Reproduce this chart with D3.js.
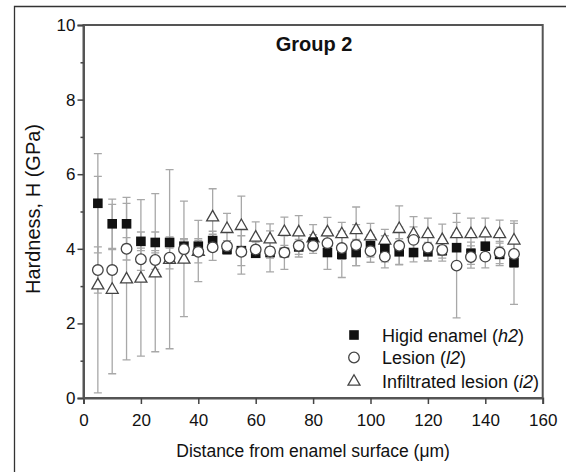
<!DOCTYPE html>
<html><head><meta charset="utf-8">
<script src="https://cdn.jsdelivr.net/npm/d3@7"></script>
<style>body{margin:0;background:#fff}svg{display:block;font-family:"Liberation Sans",Arial,sans-serif}</style>
</head><body><svg id="c" width="566" height="472"></svg>
<script>
const distance = [5,10,15,20,25,30,35,40,45,50,55,60,65,70,75,80,85,90,95,100,105,110,115,120,125,130,135,140,145,150];
const h2 = [5.22,4.67,4.67,4.20,4.17,4.17,4.07,4.07,4.22,3.98,3.95,3.88,3.90,3.90,4.05,4.18,3.90,3.85,3.90,4.08,4.00,3.92,3.90,3.92,3.95,4.03,3.88,4.07,3.85,3.63];
const h2Err = [1.33,0.66,0.55,0.25,0.28,0.15,0.20,0.20,0.25,0.12,0.40,0.10,0.15,0.12,0.20,0.20,0.45,0.62,0.35,0.30,0.35,0.35,0.25,0.25,0.20,0.40,0.30,0.25,0.30,1.12];
const l2 = [3.43,3.43,4.00,3.72,3.70,3.76,3.99,3.92,4.04,4.07,3.92,3.98,3.93,3.90,4.08,4.08,4.15,4.02,4.10,3.94,3.79,4.08,4.24,4.03,3.97,3.55,3.78,3.79,3.90,3.86];
const l2Err = [0.62,0.55,0.30,0.30,0.25,0.30,0.25,0.30,0.35,0.15,0.60,0.20,0.55,0.45,0.30,0.20,0.35,0.30,0.55,0.30,0.30,0.50,0.35,0.35,0.30,1.40,0.30,0.30,0.30,0.35];
const i2 = [3.04,2.92,3.20,3.22,3.36,3.72,3.73,3.94,4.86,4.55,4.63,4.32,4.27,4.47,4.46,4.30,4.46,4.41,4.52,4.35,4.24,4.55,4.41,4.41,4.25,4.41,4.41,4.43,4.41,4.24];
const i2Err = [2.90,2.27,2.18,2.10,2.12,2.40,1.55,0.82,0.75,0.40,0.78,0.40,0.40,0.38,0.43,0.35,0.38,0.30,0.60,0.33,0.28,0.60,0.45,0.41,0.41,0.30,0.41,0.39,0.36,0.44];
const xTicks = [0,20,40,60,80,100,120,140,160];
const yTicks = [0,2,4,6,8,10];
const yMinor = [1,3,5,7,9];
const legendLabels = [["Higid enamel (","h2",")"],["Lesion (","l2",")"],["Infiltrated lesion (","i2",")"]];

const svg = d3.select("#c");
const m = {l:83.5, t:25, r:23.3, b:74};
const W = 566, H = 472;
const x = d3.scaleLinear().domain([0,160]).range([m.l, W-m.r]);
const y = d3.scaleLinear().domain([0,10]).range([H-m.b, m.t]);

// outer figure frame
svg.append("path").attr("d",`M566,6.5H14.5V472`).attr("fill","none").attr("stroke","#333").attr("stroke-width",1.3);

// plot box
svg.append("rect").attr("x",x(0)).attr("y",y(10)).attr("width",x(160)-x(0)).attr("height",y(0)-y(10))
  .attr("fill","none").attr("stroke","#555").attr("stroke-width",2);

const fs = 17;
const gx = svg.append("g").attr("transform",`translate(0,${y(0)})`)
  .call(d3.axisBottom(x).tickValues(xTicks).tickSize(6).tickPadding(10).tickFormat(d3.format("d")));
const gy = svg.append("g").attr("transform",`translate(${x(0)},0)`)
  .call(d3.axisLeft(y).tickValues(yTicks).tickSize(6).tickPadding(2).tickFormat(d3.format("d")));
svg.append("g").attr("transform",`translate(${x(0)},0)`)
  .call(d3.axisLeft(y).tickValues(yMinor).tickSize(3).tickFormat(""))
  .call(g=>g.select(".domain").remove());
svg.selectAll(".tick line").attr("stroke","#444").attr("stroke-width",1.5);
[gx,gy].forEach(g=>{g.select(".domain").attr("stroke","#555").attr("stroke-width",2);
  g.selectAll("text").attr("font-size",fs).attr("fill","#111").attr("font-family","Liberation Sans, Arial, sans-serif");});

// axis labels
svg.append("text").attr("x",(x(0)+x(160))/2).attr("y",457).attr("text-anchor","middle").attr("font-size",17.5).attr("fill","#111")
  .text("Distance from enamel surface (μm)");
svg.append("text").attr("transform",`translate(40,209) rotate(-90)`).attr("text-anchor","middle").attr("font-size",20).attr("fill","#111")
  .text("Hardness, H (GPa)");
svg.append("text").attr("x",314).attr("y",51).attr("text-anchor","middle").attr("font-size",20).attr("font-weight","bold").attr("fill","#111").text("Group 2");

const series = [
  {v:h2, e:h2Err, type:"square"},
  {v:l2, e:l2Err, type:"circle"},
  {v:i2, e:i2Err, type:"triangle"}
];
// error bars
const eg = svg.append("g").attr("stroke","#a8a8a8").attr("stroke-width",1.3).attr("fill","none");
series.forEach(s=>{
  distance.forEach((d,i)=>{
    const cx = x(d), lo = y(s.v[i]-s.e[i]), hi = y(s.v[i]+s.e[i]);
    eg.append("path").attr("d",`M${cx},${lo}V${hi}M${cx-4},${lo}H${cx+4}M${cx-4},${hi}H${cx+4}`);
  });
});
function drawMarker(g, type, cx, cy){
  if(type==="square") g.append("rect").attr("x",cx-4.8).attr("y",cy-4.8).attr("width",9.6).attr("height",9.6).attr("fill","#111");
  else if(type==="circle") g.append("circle").attr("cx",cx).attr("cy",cy).attr("r",5.3).attr("fill","#fff").attr("stroke","#444").attr("stroke-width",1.3);
  else g.append("path").attr("d",`M${cx},${cy-6.3}L${cx+6},${cy+4.2}L${cx-6},${cy+4.2}Z`).attr("fill","#fff").attr("stroke","#444").attr("stroke-width",1.3);
}
const mg = svg.append("g");
[series[2], series[0], series[1]].forEach(s=>{
  distance.forEach((d,i)=>drawMarker(mg, s.type, x(d), y(s.v[i])));
});

// legend
const types = ["square","circle","triangle"];
const legendY = [335, 357.5, 381];
legendLabels.forEach((lab,i)=>{
  const ly = legendY[i];
  drawMarker(svg, types[i], 354, ly);
  const t = svg.append("text").attr("x",382).attr("y",ly+6.5).attr("font-size",18).attr("fill","#111");
  t.append("tspan").text(lab[0]);
  t.append("tspan").attr("font-style","italic").text(lab[1]);
  t.append("tspan").text(lab[2]);
});
</script></body></html>
